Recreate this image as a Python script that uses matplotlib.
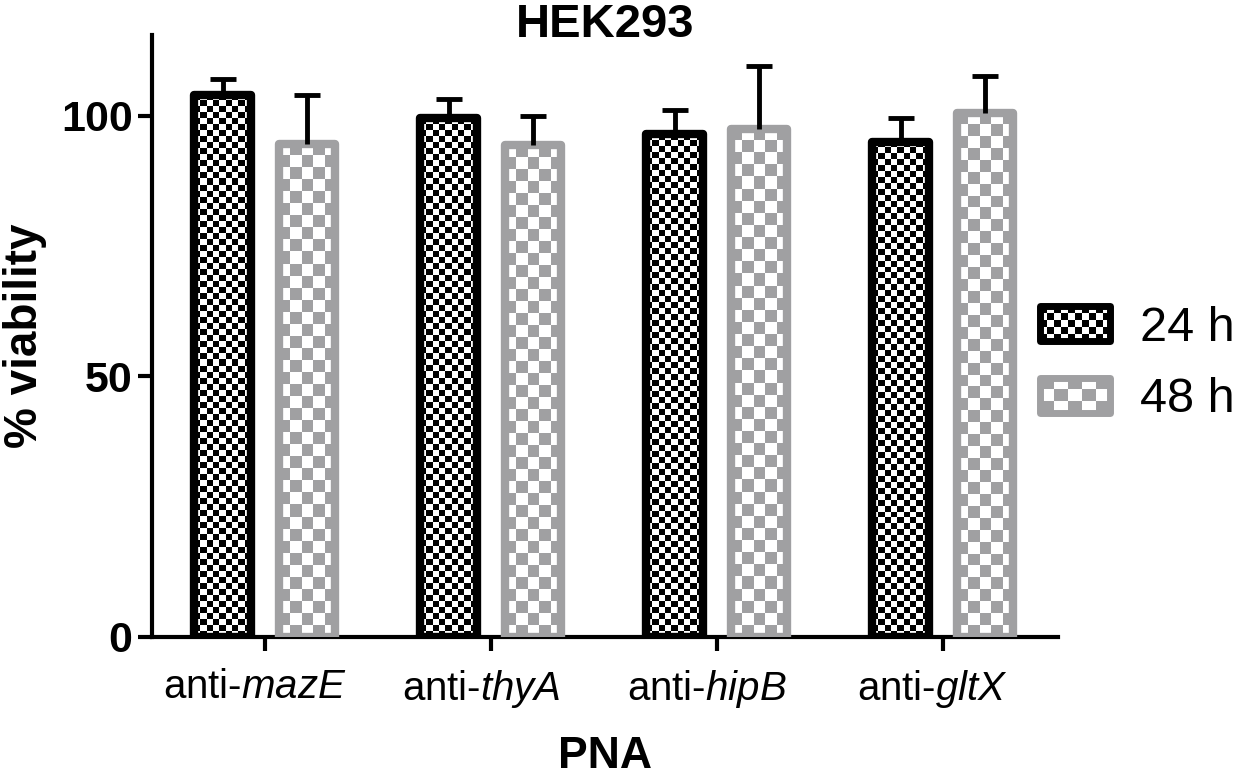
import numpy as np
import matplotlib
matplotlib.use("Agg")
import matplotlib.pyplot as plt
import matplotlib.transforms as mtransforms
from matplotlib.colors import ListedColormap
from matplotlib.patches import Rectangle
from matplotlib.legend_handler import HandlerBase

# data
groups = ["mazE", "thyA", "hipB", "gltX"]
viab_24h = [104.0, 99.5, 96.5, 95.0]
err_24h = [3.0, 3.7, 4.7, 4.6]
viab_48h = [94.6, 94.3, 97.5, 100.6]
err_48h = [9.4, 5.7, 12.1, 7.1]
series_labels = ["24 h", "48 h"]

GRAY = "#a0a0a2"

plt.rcParams["font.family"] = ["Liberation Sans", "DejaVu Sans"]
plt.rcParams["mathtext.fontset"] = "custom"
plt.rcParams["mathtext.rm"] = "Liberation Sans"
plt.rcParams["mathtext.it"] = "Liberation Sans:italic"

fig = plt.figure(figsize=(12.37, 7.82), dpi=100)
ax = fig.add_axes([152 / 1237, 1 - 637 / 782, (1058 - 152) / 1237, (637 - 35) / 782])

x = np.arange(len(groups))
off = 0.187
w = 0.25
lw = 6

ax.set_xlim(-0.5, 3.51)
ax.set_ylim(0, 115.5)

bars24 = ax.bar(x - off, viab_24h, w, facecolor="none", edgecolor="black",
                linewidth=lw, joinstyle="round", zorder=3)
bars48 = ax.bar(x + off, viab_48h, w, facecolor="none", edgecolor=GRAY,
                linewidth=lw, joinstyle="round", zorder=3)

# upper-only error bars (hide the cap that would sit on the bar top)
for xs, vals, errs in [(x - off, viab_24h, err_24h), (x + off, viab_48h, err_48h)]:
    eb = ax.errorbar(xs, vals, yerr=[np.zeros(len(vals)), errs], fmt="none",
                     ecolor="black", elinewidth=3.5, capsize=9.5, capthick=3.5, zorder=4)
    for cap in eb[1]:
        if np.allclose(cap.get_ydata(), vals):
            cap.set_visible(False)


# checkerboard fill inside each bar, clipped to the bar shape
def checker_fill(bars, color, sq):
    cmap = ListedColormap(["white", color])
    for b in bars:
        x0, y0 = b.get_x(), b.get_y()
        x1, y1 = x0 + b.get_width(), y0 + b.get_height()
        (px0, py0), (px1, py1) = ax.transData.transform([(x0, y0), (x1, y1)])
        nx = max(1, int(round((px1 - px0) / sq)))
        ny = max(1, int(round((py1 - py0) / sq)))
        grid = (np.add.outer(np.arange(ny), np.arange(nx)) % 2).astype(float)
        ax.imshow(grid, cmap=cmap, vmin=0, vmax=1, extent=[x0, x1, y0, y1],
                  origin="lower", interpolation="nearest", aspect="auto",
                  clip_path=b, zorder=2)


checker_fill(bars24, "black", 6)
checker_fill(bars48, GRAY, 12)
ax.set_xlim(-0.5, 3.51)
ax.set_ylim(0, 115.5)

# axes styling
for s in ["top", "right"]:
    ax.spines[s].set_visible(False)
for s in ["left", "bottom"]:
    ax.spines[s].set_linewidth(3)
ax.set_yticks([0, 50, 100])
ax.tick_params(axis="y", length=10, width=3, pad=4, labelsize=31)
ax.tick_params(axis="x", length=10, width=3, pad=12, labelsize=29)
for t in ax.get_yticklabels():
    t.set_fontweight("bold")
ax.set_xticks(x)
ax.set_xticklabels(["anti-$\\mathit{" + g + "}$" for g in groups])
shift = mtransforms.ScaledTranslation(-10 / 100, 0, fig.dpi_scale_trans)
for t in ax.get_xticklabels():
    t.set_transform(t.get_transform() + shift)

ax.set_ylabel("% viability", fontsize=33, fontweight="bold", labelpad=10)
ax.set_xlabel("PNA", fontsize=32, fontweight="bold", labelpad=19)
ax.text(0.5, 0.9967, "HEK293", transform=ax.transAxes, ha="center", va="baseline",
        fontsize=34, fontweight="bold")


# legend handles with the same checkerboard look
class CheckerHandler(HandlerBase):
    def __init__(self, color, ncols):
        super().__init__()
        self.color = color
        self.ncols = ncols

    def create_artists(self, legend, orig_handle, xdescent, ydescent,
                       width, height, fontsize, trans):
        x0, y0 = -xdescent, -ydescent
        arts = [Rectangle((x0, y0), width, height, fc="white", ec="none", transform=trans)]
        sw = width / self.ncols
        nrows = max(1, int(round(height / sw)))
        sh = height / nrows
        for i in range(self.ncols):
            for j in range(nrows):
                if (i + j) % 2 == 0:
                    arts.append(Rectangle((x0 + i * sw, y0 + j * sh), sw, sh,
                                          fc=self.color, ec="none", transform=trans))
        arts.append(Rectangle((x0, y0), width, height, fc="none", ec=self.color,
                              lw=5, joinstyle="round", transform=trans))
        return arts


h24 = Rectangle((0, 0), 1, 1)
h48 = Rectangle((0, 0), 1, 1)
fig.legend([h24, h48], series_labels, loc="center left",
           bbox_to_anchor=(1040 / 1237, 1 - 364 / 782), frameon=False,
           fontsize=35, handlelength=1.45, handleheight=0.75,
           handletextpad=0.6, labelspacing=0.55, borderpad=0, borderaxespad=0,
           handler_map={h24: CheckerHandler("black", 10), h48: CheckerHandler(GRAY, 5)})

fig.savefig("out.png", dpi=100)
